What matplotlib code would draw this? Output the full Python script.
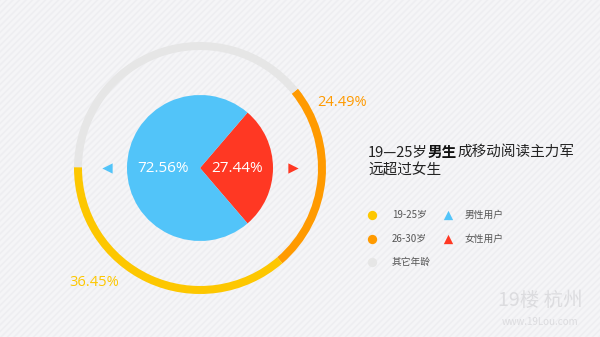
import numpy as np
import matplotlib
matplotlib.use('Agg')
import matplotlib.pyplot as plt

plt.rcParams['font.family'] = ['Noto Sans CJK SC', 'DejaVu Sans']

# age groups (outer ring)
age_labels = ['26-30岁', '19-25岁', '其它年龄']
age_share = [24.49, 36.45, 39.06]
age_colors = ['#ff9a00', '#fdc700', '#e6e6e6']

# gender split (inner pie)
gender_labels = ['女性用户', '男性用户']
gender_share = [27.44, 72.56]
gender_colors = ['#ff3823', '#52c4f9']

title_lines = ['19—25岁', '男生', '成移动阅读主力军', '远超过女生']

W, H = 600, 337
fig = plt.figure(figsize=(6, 3.37), dpi=100)
fig.patch.set_facecolor('#f5f5f7')
ax = fig.add_axes([0, 0, 1, 1])

# faint diagonal stripes in the background
for c in np.arange(-H, W, 6.5):
    ax.plot([c, c + H], [0, H], color='#eeeef1', lw=1.2, zorder=0)

cx, cy = 200, 169
num_font = ['Open Sans', 'DejaVu Sans']

ax.pie(age_share, colors=age_colors, radius=126, center=(cx, cy),
       startangle=39, counterclock=False,
       wedgeprops=dict(width=8, linewidth=0), frame=True)
ax.pie(gender_share, colors=gender_colors, radius=73, center=(cx, cy),
       startangle=gender_share[0] / 100 * 180, counterclock=False,
       wedgeprops=dict(linewidth=0), frame=True)
ax.set_xlim(0, W)
ax.set_ylim(0, H)
ax.set_aspect('equal')
ax.axis('off')

ax.text(cx - 37, cy, f'{gender_share[1]:.2f}%', color='white', fontsize=11,
        ha='center', va='center', family=num_font)
ax.text(cx + 37, cy, f'{gender_share[0]:.2f}%', color='white', fontsize=11,
        ha='center', va='center', family=num_font)

ax.text(342, H - 102, f'{age_share[0]:.2f}%', color=age_colors[0], fontsize=10.5,
        ha='center', va='center', family=num_font)
ax.text(94, H - 282, f'{age_share[1]:.2f}%', color=age_colors[1], fontsize=10.5,
        ha='center', va='center', family=num_font)

# pointers on either side of the pie
ax.scatter([107], [cy], marker='<', s=55, color=gender_colors[1], linewidths=0)
ax.scatter([293], [cy], marker='>', s=55, color=gender_colors[0], linewidths=0)

# heading, with 男生 in bold
tx, ty = 368, H - 152
t1 = ax.text(tx, ty, title_lines[0], fontsize=10.5, color='#222222', va='center')
fig.canvas.draw()
r = fig.canvas.get_renderer()
inv = ax.transData.inverted()
bb = t1.get_window_extent(r)
x2 = inv.transform((bb.x1, 0))[0]
t2 = ax.text(x2, ty, title_lines[1], fontsize=10.5, color='#111111',
             fontweight='bold', va='center')
bb = t2.get_window_extent(r)
x3 = inv.transform((bb.x1, 0))[0]
ax.text(x3, ty, title_lines[2], fontsize=10.5, color='#222222', va='center')
ax.text(tx, ty - 19, title_lines[3], fontsize=10.5, color='#222222', va='center')

# legend
ly = [H - 215, H - 239, H - 262]
legend_age = [age_labels[1], age_labels[0], age_labels[2]]
legend_age_col = [age_colors[1], age_colors[0], age_colors[2]]
for y, lab, col in zip(ly, legend_age, legend_age_col):
    ax.scatter([372], [y], s=45, color=col, linewidths=0)
    ax.text(392, y, lab, fontsize=7, color='#555555', va='center')
for y, lab, col in zip(ly[:2], gender_labels[::-1], gender_colors[::-1]):
    ax.scatter([448], [y], marker='^', s=45, color=col, linewidths=0)
    ax.text(465, y, lab, fontsize=7, color='#555555', va='center')

# watermark
ax.text(540, H - 300, '19楼 杭州', fontsize=14, color='#dcdcdf', ha='center',
        va='center', style='italic')
ax.text(540, H - 322, 'www.19Lou.com', fontsize=7, color='#dcdcdf',
        ha='center', va='center')

fig.savefig('out.png', dpi=100, facecolor=fig.get_facecolor())
